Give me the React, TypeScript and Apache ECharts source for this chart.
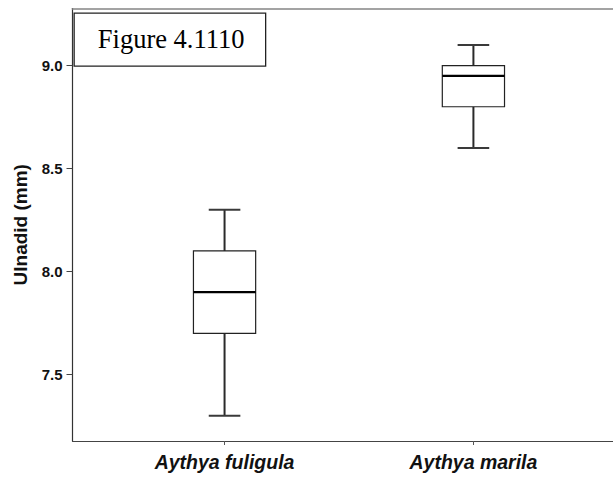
import React, { useEffect, useRef } from "react";
import * as echarts from "echarts";

const categories = ["Aythya fuligula", "Aythya marila"];
const mins = [7.3, 8.6];
const q1s = [7.7, 8.8];
const medians = [7.9, 8.95];
const q3s = [8.1, 9.0];
const maxs = [8.3, 9.1];
const yTicks = [7.5, 8.0, 8.5, 9.0];
const categoryPositions = [0, 1];
const yTitle = "Ulnadid (mm)";
const figureLabel = "Figure 4.1110";

export default function App() {
  const ref = useRef<HTMLDivElement>(null);
  useEffect(() => {
    if (!ref.current) return;
    const chart = echarts.init(ref.current, undefined, { renderer: "svg" });
    const data = categories.map((_, i) => [
      categoryPositions[i],
      mins[i],
      q1s[i],
      medians[i],
      q3s[i],
      maxs[i],
    ]);
    chart.setOption({
      animation: false,
      backgroundColor: "#ffffff",
      grid: {
        left: 72.5,
        top: 8.5,
        width: 600,
        height: 432.5,
        show: false,
        containLabel: false,
        outerBoundsMode: "none",
      },
      xAxis: [
        {
          type: "value",
          position: "bottom",
          min: -0.611,
          max: 1.8,
          splitLine: { show: false },
          axisLine: { show: true, onZero: false, lineStyle: { color: "#444", width: 1.2 } },
          axisTick: {
            show: true,
            customValues: categoryPositions,
            length: 4,
            lineStyle: { color: "#555", width: 1 },
          },
          axisLabel: {
            customValues: categoryPositions,
            formatter: (v: number) => categories[Math.round(v)] ?? "",
            fontFamily: "Liberation Sans",
            fontWeight: "bold",
            fontStyle: "italic",
            fontSize: 19.5,
            color: "#111",
            margin: 11,
          },
        },
        {
          type: "value",
          position: "top",
          min: -0.611,
          max: 1.8,
          splitLine: { show: false },
          axisLine: { show: true, onZero: false, lineStyle: { color: "#858585", width: 1.6 } },
          axisTick: { show: false },
          axisLabel: { show: false },
        },
      ],
      yAxis: {
        type: "value",
        min: 7.177,
        max: 9.277,
        name: yTitle,
        nameLocation: "middle",
        nameRotate: 90,
        nameGap: 43,
        nameTextStyle: {
          fontFamily: "Liberation Sans",
          fontWeight: "bold",
          fontSize: 19,
          color: "#111",
        },
        splitLine: { show: false },
        axisLine: { show: true, onZero: false, lineStyle: { color: "#333", width: 1.2 } },
        axisTick: {
          show: true,
          customValues: yTicks,
          length: 6,
          lineStyle: { color: "#444", width: 1 },
        },
        axisLabel: {
          customValues: yTicks,
          formatter: (v: number) => v.toFixed(1),
          fontFamily: "Liberation Sans",
          fontWeight: "bold",
          fontSize: 15,
          color: "#111",
          margin: 10,
        },
      },
      graphic: [
        {
          type: "group",
          left: 73.5,
          top: 12.5,
          z: 100,
          children: [
            {
              type: "rect",
              shape: { x: 0, y: 0, width: 191.5, height: 53 },
              style: { fill: "#ffffff", stroke: "#222", lineWidth: 1.3 },
            },
            {
              type: "text",
              x: 97,
              y: 26,
              style: {
                text: figureLabel,
                fontFamily: "Liberation Serif",
                fontSize: 26.5,
                fill: "#000",
                align: "center",
                verticalAlign: "middle",
              },
            },
          ],
        },
      ],
      series: [
        {
          type: "custom",
          xAxisIndex: 0,
          data,
          encode: { x: 0, y: [1, 2, 3, 4, 5] },
          renderItem: (_params: any, api: any) => {
            const x = api.value(0);
            const pMin = api.coord([x, api.value(1)]);
            const pQ1 = api.coord([x, api.value(2)]);
            const pMed = api.coord([x, api.value(3)]);
            const pQ3 = api.coord([x, api.value(4)]);
            const pMax = api.coord([x, api.value(5)]);
            const bw = api.size([0.25, 0])[0];
            const cw = api.size([0.127, 0])[0];
            const cx = pMin[0];
            return {
              type: "group",
              children: [
                {
                  type: "line",
                  shape: { x1: cx, y1: pMax[1], x2: cx, y2: pQ3[1] },
                  style: { stroke: "#2a2a2a", lineWidth: 2 },
                },
                {
                  type: "line",
                  shape: { x1: cx, y1: pQ1[1], x2: cx, y2: pMin[1] },
                  style: { stroke: "#2a2a2a", lineWidth: 2 },
                },
                {
                  type: "line",
                  shape: { x1: cx - cw / 2, y1: pMax[1], x2: cx + cw / 2, y2: pMax[1] },
                  style: { stroke: "#3a3a3a", lineWidth: 2 },
                },
                {
                  type: "line",
                  shape: { x1: cx - cw / 2, y1: pMin[1], x2: cx + cw / 2, y2: pMin[1] },
                  style: { stroke: "#3a3a3a", lineWidth: 2 },
                },
                {
                  type: "rect",
                  shape: { x: cx - bw / 2, y: pQ3[1], width: bw, height: pQ1[1] - pQ3[1] },
                  style: { fill: "#ffffff", stroke: "#222", lineWidth: 1.2 },
                },
                {
                  type: "line",
                  shape: { x1: cx - bw / 2, y1: pMed[1], x2: cx + bw / 2, y2: pMed[1] },
                  style: { stroke: "#000", lineWidth: 2.2 },
                },
              ],
            };
          },
        },
      ],
    });
    return () => chart.dispose();
  }, []);
  return (
    <div
      style={{
        position: "absolute",
        left: 0,
        top: 0,
        width: 613,
        height: 478,
        overflow: "hidden",
        background: "#fff",
      }}
    >
      <div ref={ref} style={{ width: 700, height: 478 }} />
    </div>
  );
}
